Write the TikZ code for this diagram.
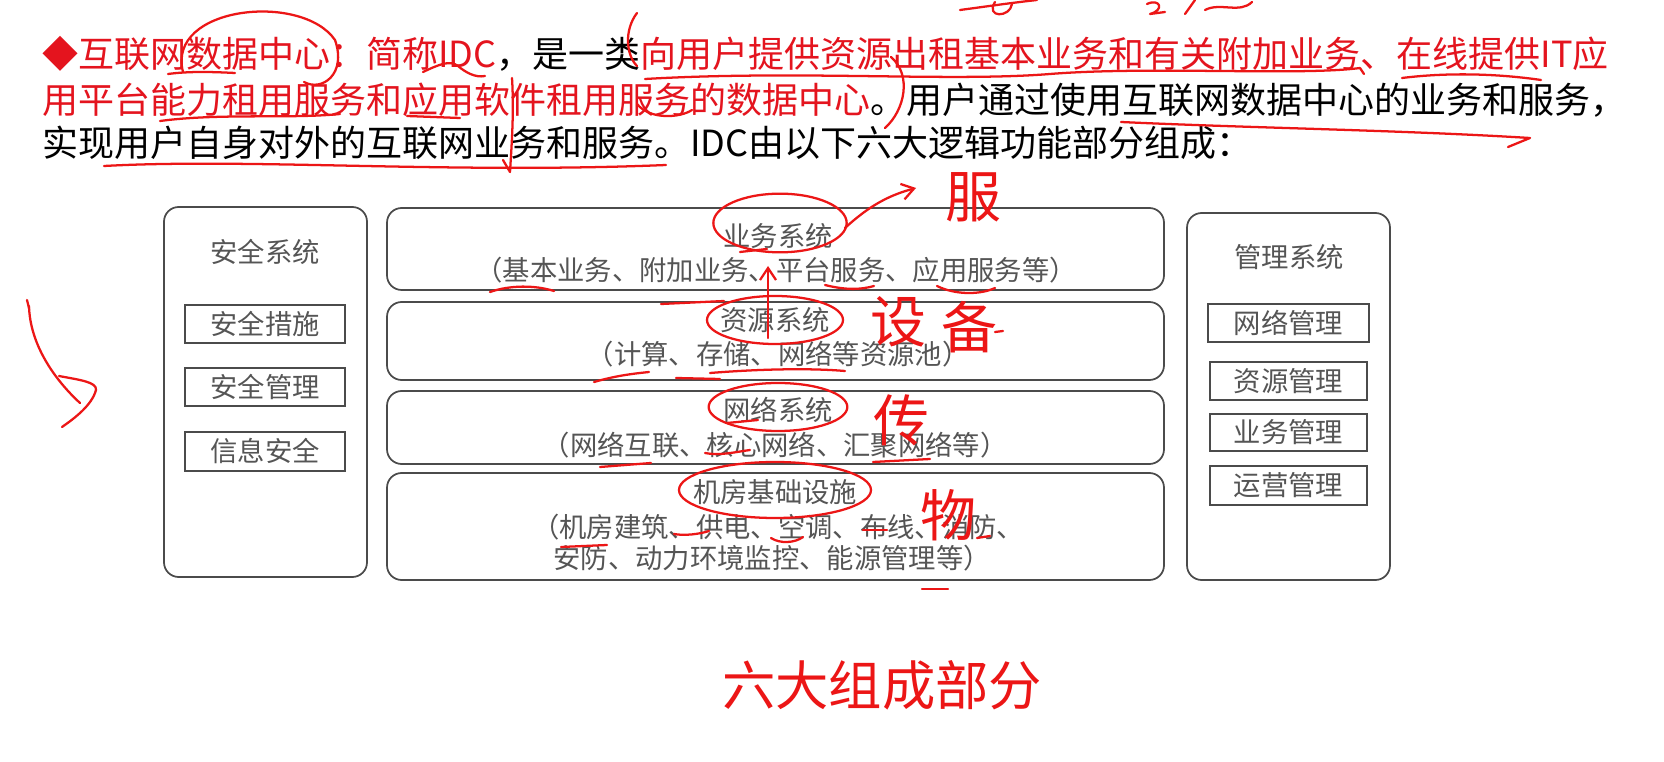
\documentclass[tikz,border=0pt]{standalone}
\usepackage{fontspec}
\setmainfont{Noto Sans CJK SC}
\usetikzlibrary{arrows.meta,fit}
\definecolor{hred}{RGB}{228,20,30}
\definecolor{pen}{RGB}{236,22,22}
\definecolor{boxc}{RGB}{75,75,75}
\definecolor{txtc}{RGB}{85,85,85}
\begin{document}
\begin{tikzpicture}[x=0.75pt,y=-0.75pt,
  sysbox/.style={draw=boxc,line width=1.3pt,rounded corners=11pt,inner sep=0pt},
  itembox/.style={draw=boxc,line width=1.2pt,inner sep=0pt},
  dtext/.style={text=txtc,font=\fontsize{20.5}{24}\selectfont,inner sep=0pt},
  head/.style={font=\fontsize{27}{32}\selectfont,anchor=west,inner sep=0pt},
  ink/.style={draw=pen,line width=1.7pt,line cap=round,line join=round},
  hand/.style={text=pen,font=\fontsize{42}{46}\selectfont,inner sep=0pt},
  penarrow/.style={ink,-{Straight Barb[length=9pt,width=12pt,line width=1.7pt]}}
]
\useasboundingbox[fill=white] (0,0) rectangle (1664,762);

% ---------- header text ----------
\node[head] (l1) at (42,54) {{\color{hred}◆互联网数据中心：简称IDC}，是一类{\color{hred}向用户提供资源出租基本业务和有关附加业务、在线提供IT应}};
\node[head] (l2) at (42,100) {{\color{hred}用平台能力租用服务和应用软件租用服务的数据中心}。用户通过使用互联网数据中心的业务和服务，};
\node[head] (l3) at (42,143) {实现用户自身对外的互联网业务和服务。IDC由以下六大逻辑功能部分组成：};

% ---------- left: security ----------
\node[sysbox,fit={(164,207)(367,577)}] (sec) {};
\node[dtext] (sect) at (265,252) {安全系统};
\node[itembox,fit={(185,305)(345,343)}] (s1) {};
\node[dtext] at (s1) {安全措施};
\node[itembox,fit={(185,368)(345,406)}] (s2) {};
\node[dtext] at (s2) {安全管理};
\node[itembox,fit={(185,432)(345,471)}] (s3) {};
\node[dtext] at (s3) {信息安全};

% ---------- centre layers ----------
\node[sysbox,fit={(387,208)(1164,290)}] (b1) {};
\node[dtext] (b1t) at (778,236) {业务系统};
\node[dtext] (b1s) at (776,270) {（基本业务、附加业务、平台服务、应用服务等）};
\node[sysbox,fit={(387,302)(1164,380)}] (b2) {};
\node[dtext] (b2t) at (775,320) {资源系统};
\node[dtext] (b2s) at (778,354) {（计算、存储、网络等资源池）};
\node[sysbox,fit={(387,391)(1164,464)}] (b3) {};
\node[dtext] (b3t) at (778,410) {网络系统};
\node[dtext] (b3s) at (775,445) {（网络互联、核心网络、汇聚网络等）};
\node[sysbox,fit={(387,473)(1164,580)}] (b4) {};
\node[dtext] (b4t) at (775,492) {机房基础设施};
\node[dtext] (b4s) at (778,527) {（机房建筑、供电、空调、布线、消防、};
\node[dtext] (b4u) at (772,558) {安防、动力环境监控、能源管理等）};

% ---------- right: management ----------
\node[sysbox,fit={(1187,213)(1390,580)}] (mgt) {};
\node[dtext] (mgtt) at (1289,257) {管理系统};
\node[itembox,fit={(1208,304)(1369,342)}] (m1) {};
\node[dtext] at (m1) {网络管理};
\node[itembox,fit={(1210,362)(1367,400)}] (m2) {};
\node[dtext] at (m2) {资源管理};
\node[itembox,fit={(1210,414)(1367,451)}] (m3) {};
\node[dtext] at (m3) {业务管理};
\node[itembox,fit={(1210,466)(1367,505)}] (m4) {};
\node[dtext] at (m4) {运营管理};

% ---------- handwritten annotations ----------
% header
\draw[ink] (183,72) .. controls (166,6) and (302,-8) .. (335,40) .. controls (347,74) and (322,92) .. (304,82);
\draw[ink] (168,74) .. controls (190,71) and (215,72) .. (235,73);
\draw[ink] (637,13) .. controls (624,30) and (626,55) .. (637,66);
\draw[ink] (645,79) .. controls (800,70) and (950,82) .. (1050,74) .. controls (1150,66) and (1300,76) .. (1360,68) -- (1364,74);
\draw[ink] (1402,78) .. controls (1450,72) and (1500,74) .. (1541,80);
\draw[ink] (423,72) .. controls (440,64) and (450,60) .. (458,66) .. controls (465,72) and (475,78) .. (485,76);
\draw[ink] (512,78) .. controls (514,110) and (512,140) .. (510,172) -- (503,160);
\draw[ink] (891,57) .. controls (912,75) and (905,110) .. (885,128);
\draw[ink] (160,121) .. controls (220,113) and (290,119) .. (340,114);
\draw[ink] (407,116) -- (460,118);
\draw[ink] (637,104) .. controls (650,120) and (680,118) .. (692,110);
\draw[ink] (1121,122) .. controls (1250,128) and (1400,130) .. (1530,138) -- (1508,147);
\draw[ink] (104,166) .. controls (250,158) and (450,174) .. (666,165);
\draw[ink] (960,10) .. controls (990,6) and (1010,3) .. (1037,0);
\draw[ink] (995,2) .. controls (985,18) and (1010,18) .. (1012,4);
\draw[ink] (1147,4) .. controls (1160,-2) and (1165,10) .. (1150,14) -- (1165,12);
\draw[ink] (1185,14) -- (1195,0);
\draw[ink] (1205,10) .. controls (1220,2) and (1240,14) .. (1252,2);

% left arrow
\draw[ink] (29,308) -- (27,300);
\draw[ink] (29,306) .. controls (30,345) and (55,380) .. (80,403);
\draw[ink] (59,376) .. controls (80,380) and (97,382) .. (96,390) .. controls (92,405) and (75,418) .. (62,427);

% diagram circles and arrows
\draw[ink] (780,223) ellipse [x radius=50pt, y radius=22pt];
\draw[ink] (775,320) ellipse [x radius=51pt, y radius=18pt];
\draw[ink] (778,407) ellipse [x radius=52pt, y radius=18pt];
\draw[ink] (775,490) ellipse [x radius=72pt, y radius=21pt];
\draw[penarrow] (845,228) .. controls (870,205) and (890,195) .. (916,188);
\draw[penarrow] (768,338) -- (768,266);
\node[hand] (h1) at (973,197) {服};
\node[hand] (h2) at (898,322) {设};
\node[hand] (h3) at (969,327) {备};
\draw[ink] (995,332) -- (1003,331);
\node[hand] (h4) at (901,420) {传};
\node[hand] (h5) at (948,515) {物};
\node[hand,font=\fontsize{40}{44}\selectfont] (h6) at (882,685) {六大组成部分};

% diagram underlines
\draw[ink] (490,292) .. controls (510,285) and (535,285) .. (554,291);
\draw[ink] (661,304) -- (724,301);
\draw[ink] (740,252) -- (767,249);
\draw[ink] (825,285) .. controls (845,290) and (860,290) .. (874,286);
\draw[ink] (937,286) .. controls (955,295) and (980,295) .. (995,288);
\draw[ink] (594,382) .. controls (615,376) and (630,374) .. (649,372);
\draw[ink] (676,378) -- (720,379);
\draw[ink] (710,373) .. controls (760,369) and (810,368) .. (845,371);
\draw[ink] (600,467) -- (651,463);
\draw[ink] (705,453) .. controls (720,456) and (735,452) .. (750,450);
\draw[ink] (727,423) -- (758,420);
\draw[ink] (873,462) -- (930,459);
\draw[ink] (674,534) .. controls (685,536) and (700,534) .. (709,531);
\draw[ink] (771,538) .. controls (780,544) and (795,543) .. (803,537);
\draw[ink] (863,530) -- (887,530);
\draw[ink] (977,538) -- (990,536);
\draw[ink] (561,547) -- (607,545);
\draw[ink] (922,589) -- (948,589);
\end{tikzpicture}
\end{document}
